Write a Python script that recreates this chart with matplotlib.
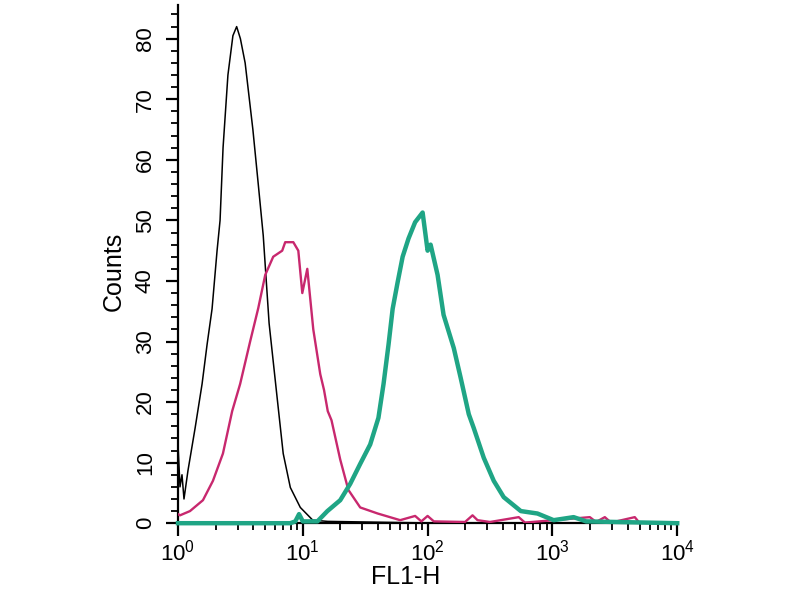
import numpy as np
import matplotlib
matplotlib.use('Agg')
import matplotlib.pyplot as plt
from matplotlib.ticker import LogLocator, FixedLocator, MultipleLocator, LogFormatterMathtext

plt.rcParams['font.family'] = ['Liberation Sans', 'DejaVu Sans']
plt.rcParams['mathtext.fontset'] = 'custom'
plt.rcParams['mathtext.rm'] = 'Liberation Sans'
plt.rcParams['mathtext.it'] = 'Liberation Sans'
plt.rcParams['mathtext.default'] = 'regular'

# isotype control (black) - log10 of FL1-H and counts
black_log = [0.0, 0.016, 0.032, 0.048, 0.08, 0.137, 0.193, 0.233, 0.273, 0.313, 0.337,
             0.361, 0.40, 0.44, 0.47, 0.50, 0.538, 0.60, 0.643, 0.683, 0.73, 0.795,
             0.843, 0.90, 0.98, 1.08, 1.2, 1.5, 1.8, 2.2, 4.0]
black_cnt = [13, 6, 8, 4, 8.7, 15.7, 23, 29.5, 35.4, 45, 50,
             62, 74, 80.5, 82, 80, 76, 65, 56, 47.5, 33, 20.6,
             11.5, 5.9, 2.6, 0.5, 0.3, 0.2, 0.1, 0, 0]

# second sample (magenta)
magenta_log = [0.0, 0.016, 0.096, 0.2, 0.28, 0.36, 0.434, 0.498, 0.578, 0.643, 0.699,
               0.763, 0.835, 0.859, 0.924, 0.964, 0.996, 1.036, 1.084, 1.14, 1.17,
               1.2, 1.23, 1.3, 1.365, 1.46, 1.6, 1.78, 1.9, 1.95, 2.0, 2.05, 2.3,
               2.36, 2.4, 2.5, 2.73, 2.78, 3.3, 3.35, 3.42, 3.47, 3.66, 3.7, 4.0]
magenta_cnt = [1.5, 1.3, 2, 3.8, 7, 11.5, 18.5, 23, 30, 35.5, 41,
               44, 45, 46.4, 46.4, 45, 38, 42, 32, 24.6, 22,
               18.5, 17, 10.5, 5.5, 2.6, 1.6, 0.5, 1.2, 0.3, 1.2, 0.3, 0.2,
               1.3, 0.5, 0.2, 1.0, 0.1, 1.0, 0.2, 1.0, 0.1, 1.0, 0, 0]

# stained sample (green)
green_log = [0.0, 0.9, 0.94, 0.97, 1.0, 1.117, 1.197, 1.3, 1.38, 1.46, 1.54, 1.606,
             1.647, 1.687, 1.72, 1.76, 1.8, 1.847, 1.9, 1.96, 2.0, 2.024, 2.08,
             2.128, 2.21, 2.265, 2.33, 2.37, 2.45, 2.53, 2.61, 2.747, 2.88, 3.01,
             3.17, 3.27, 4.0]
green_cnt = [0, 0, 0.3, 1.5, 0.3, 0.3, 2, 3.8, 6.5, 9.8, 13, 17.4,
             23, 29.5, 35.4, 39.8, 44, 47, 49.7, 51.3, 45, 46, 41,
             34.4, 28.9, 24, 18, 15.7, 10.8, 7, 4.3, 2, 1.6, 0.5,
             1, 0.3, 0]

fig = plt.figure(figsize=(8, 6), dpi=100)
ax = fig.add_axes([0.2225, 0.128, 0.624, 0.863])

ax.plot(10 ** np.array(black_log), black_cnt, color='black', linewidth=1.1, zorder=2)
ax.plot(10 ** np.array(magenta_log), magenta_cnt, color='#c8286e', linewidth=1.7, zorder=3)
ax.plot(10 ** np.array(green_log), green_cnt, color='#1fa585', linewidth=3.2, zorder=4,
        clip_on=False)

ax.set_xscale('log')
ax.set_xlim(1, 1e4)
ax.set_ylim(0, 85.5)

ax.spines['top'].set_visible(False)
ax.spines['right'].set_visible(False)
ax.spines['left'].set_linewidth(1.6)
ax.spines['bottom'].set_linewidth(1.6)

ax.xaxis.set_major_locator(FixedLocator([1, 10, 100, 1000, 10000]))
ax.xaxis.set_major_formatter(LogFormatterMathtext())
ax.xaxis.set_minor_locator(LogLocator(base=10, subs=np.arange(2, 10), numticks=20))
ax.yaxis.set_major_locator(MultipleLocator(10))
ax.yaxis.set_minor_locator(MultipleLocator(2))

ax.tick_params(axis='both', which='major', direction='out', length=9, width=1.6,
               labelsize=16, colors='black')
ax.tick_params(axis='both', which='minor', direction='out', length=5, width=1.3)
ax.tick_params(axis='x', which='major', pad=3)
ax.tick_params(axis='y', which='major', pad=7)
for lbl in ax.get_yticklabels():
    lbl.set_rotation(90)
    lbl.set_va('center')

ax.set_xlabel('FL1-H', fontsize=18)
ax.set_ylabel('Counts', fontsize=18)
ax.xaxis.set_label_coords(0.457, -0.08)
ax.yaxis.set_label_coords(-0.105, 0.486)

fig.savefig('out.png', dpi=100)
